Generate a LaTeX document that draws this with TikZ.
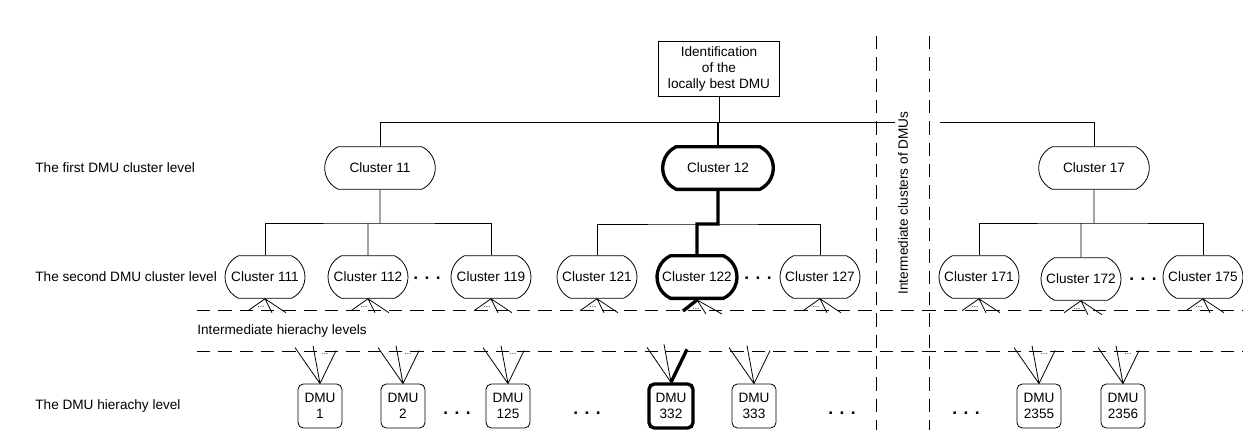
\documentclass[tikz,border=0pt]{standalone}
\usepackage{fontspec}
\setmainfont{Liberation Sans}
\usetikzlibrary{shapes.misc}

\begin{document}
\begin{tikzpicture}[x=0.75pt,y=-0.75pt,line width=0.6pt,font=\fontsize{10.2}{12}\selectfont,
    cluster node/.style={rounded rectangle,rounded rectangle arc length=130,draw,inner xsep=0pt,minimum height=32pt},
    top cluster/.style={cluster node,minimum width=83pt},
    sub cluster/.style={cluster node,minimum width=60pt},
    dmu node/.style={draw,rounded corners=4pt,align=center,minimum width=33pt,minimum height=33pt,inner sep=1pt},
    best/.style={line width=2.5pt},
    level label/.style={anchor=west,inner sep=0pt},
    dots/.style={font=\bfseries\fontsize{13}{13}\selectfont,inner sep=0pt},
    small dots/.style={font=\fontsize{6}{6}\selectfont,inner sep=0pt},
    sep line/.style={dash pattern=on 10pt off 6pt}]
    \useasboundingbox (0,0) rectangle (1243,430);

    % levels
    \node[level label] (l1) at (35,168) {The first DMU cluster level};
    \node[level label] (l2) at (35,277) {The second DMU cluster level};
    \node[level label] (l3) at (197,331) {Intermediate hierachy levels};
    \node[level label] (l4) at (35,406) {The DMU hierachy level};

    \node[draw,align=center,minimum width=91pt,minimum height=41pt,inner sep=1pt] (top) at (719,69) {Identification\\of the\\locally best DMU};

    \node[top cluster] (c11) at (380,168) {Cluster 11};
    \node[top cluster,best] (c12) at (718,168) {Cluster 12};
    \node[top cluster] (c17) at (1094,168) {Cluster 17};

    \node[sub cluster] (c111) at (265,277) {Cluster 111};
    \node[sub cluster] (c112) at (368,277) {Cluster 112};
    \node[sub cluster] (c119) at (491,277) {Cluster 119};
    \node[sub cluster] (c121) at (597,277) {Cluster 121};
    \node[sub cluster,best] (c122) at (697,277) {Cluster 122};
    \node[sub cluster] (c127) at (820,277) {Cluster 127};
    \node[sub cluster] (c171) at (979,277) {Cluster 171};
    \node[sub cluster] (c172) at (1081,279) {Cluster 172};
    \node[sub cluster] (c175) at (1203,277) {Cluster 175};
    \node[dots] (k1) at (427,278) {. . .};
    \node[dots] (k2) at (758,278) {. . .};
    \node[dots] (k3) at (1143,279) {. . .};

    \node[dmu node] (d1) at (320,406) {DMU\\1};
    \node[dmu node] (d2) at (403,406) {DMU\\2};
    \node[dmu node] (d125) at (508,406) {DMU\\125};
    \node[dmu node,best] (d332) at (671,406) {DMU\\332};
    \node[dmu node] (d333) at (754,406) {DMU\\333};
    \node[dmu node] (d2355) at (1039,406) {DMU\\2355};
    \node[dmu node] (d2356) at (1123,406) {DMU\\2356};
    \node[dots] (k4) at (457,413) {. . .};
    \node[dots] (k5) at (587,413) {. . .};
    \node[dots] (k6) at (842,413) {. . .};
    \node[dots] (k7) at (966,413) {. . .};

    \node[rotate=90] (mid) at (903,203) {Intermediate clusters of DMUs};

    % separators
    \coordinate (h1a) at (197,310);
    \coordinate (h1b) at (1243,310);
    \coordinate (h2a) at (197,351);
    \coordinate (h2b) at (1243,351);
    \coordinate (v1a) at (876,36);
    \coordinate (v1b) at (876,430);
    \coordinate (v2a) at (929,36);
    \coordinate (v2b) at (929,430);
    \draw[sep line] (h1a) -- (h1b) (h2a) -- (h2b) (v1a) -- (v1b) (v2a) -- (v2b);

    % tree
    \coordinate (j0) at (719,122);
    \coordinate (r0) at (895,122);
    \coordinate (r1) at (940,122);
    \draw (top) -- (j0);
    \draw (c11) |- (r0);
    \draw[line width=1.2pt] (c12) -- (c12 |- j0);
    \draw (r1) -| (c17);

    \coordinate (j11) at (380,223);
    \coordinate (j12) at (697,224);
    \coordinate (j17) at (1094,223);
    \draw (c11) -- (j11);
    \draw (c111) |- (j11) -| (c119);
    \draw (c112) -- (c112 |- j11);
    \draw (c121) |- (j12) -| (c127);
    \draw[best] (c12) |- (j12) -- (c122);
    \draw (c17) -- (j17);
    \draw (c171) |- (j17) -| (c175);
    \draw (c172) -- (c172 |- j17);

    % fans
    \foreach \n in {c111,c112,c119,c121,c127,c171,c172,c175} {
        \draw (\n.south) -- ++(-17,12) (\n.south) -- ++(7,14) (\n.south) -- ++(21,14);
        \path (\n.south) ++(-4,8) node[small dots] {...};
    }
    \draw[best] (c122.south) -- ++(-14,11);
    \draw (c122.south) -- ++(9,14) (c122.south) -- ++(25,14);
    \path (c122.south) ++(-1,9) node[small dots] {...};

    \foreach \n in {d1,d2,d125,d333,d2355,d2356} {
        \draw (\n.north) -- ++(-25,-36) (\n.north) -- ++(-7,-38) (\n.north) -- ++(16,-33);
    }
    \foreach \n in {d1,d2,d125,d2355,d2356} {
        \path (\n.north) ++(5,-30) node[small dots] {...};
    }
    \draw (d332.north) -- ++(-24,-35) (d332.north) -- ++(-7,-38);
    \draw[best] (d332.north) -- ++(16,-33);
\end{tikzpicture}
\end{document}
